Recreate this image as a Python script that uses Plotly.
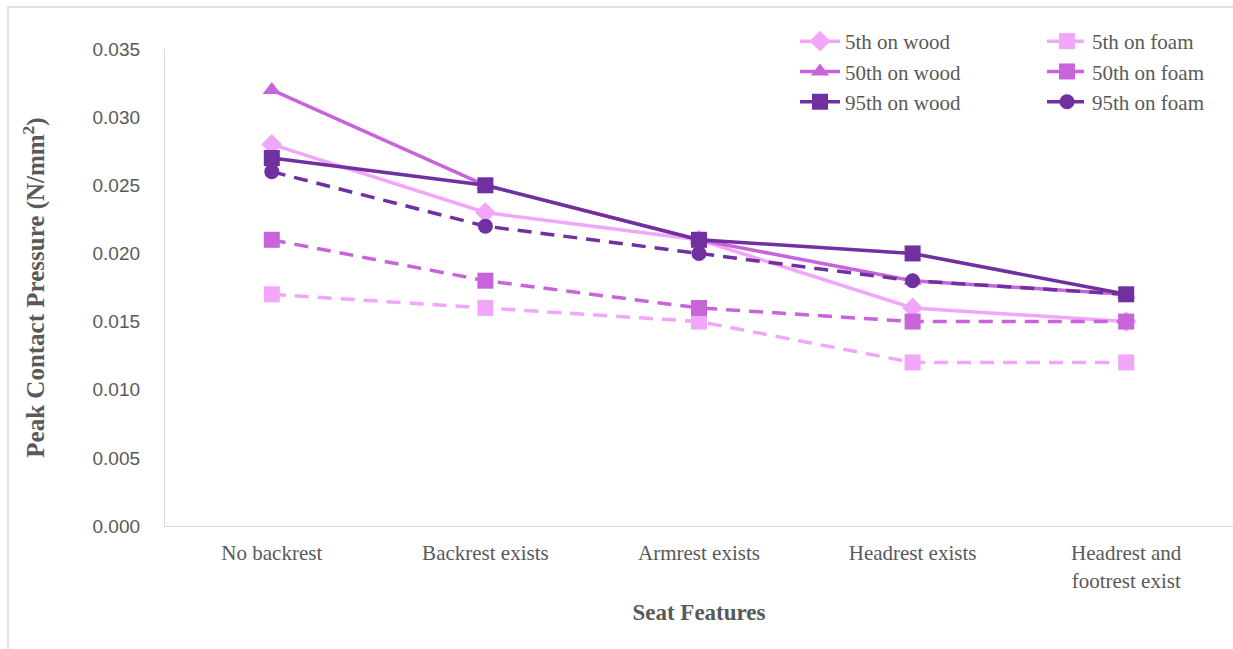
import plotly.graph_objects as go

# Seat configurations on the category axis
categories = ["No backrest", "Backrest exists", "Armrest exists",
              "Headrest exists", "Headrest and<br>footrest exist"]

# Peak contact pressure (N/mm²) per occupant percentile and seat surface
p5_wood = [0.028, 0.023, 0.021, 0.016, 0.015]
p50_wood = [0.032, 0.025, 0.021, 0.018, 0.017]
p95_wood = [0.027, 0.025, 0.021, 0.020, 0.017]
p5_foam = [0.017, 0.016, 0.015, 0.012, 0.012]
p50_foam = [0.021, 0.018, 0.016, 0.015, 0.015]
p95_foam = [0.026, 0.022, 0.020, 0.018, 0.017]

y_ticks = [0.000, 0.005, 0.010, 0.015, 0.020, 0.025, 0.030, 0.035]

LIGHT = "#F2A6FA"
MID = "#C864D9"
DARK = "#7030A0"
DASH = "14px,9px"
LW = 3.5

series = [
    ("5th on wood", p5_wood, LIGHT, "solid", "diamond", 16, "legend"),
    ("50th on wood", p50_wood, MID, "solid", "triangle-up", 16, "legend"),
    ("95th on wood", p95_wood, DARK, "solid", "square", 16, "legend"),
    ("5th on foam", p5_foam, LIGHT, DASH, "square", 16, "legend2"),
    ("50th on foam", p50_foam, MID, DASH, "square", 16, "legend2"),
    ("95th on foam", p95_foam, DARK, DASH, "circle", 15, "legend2"),
]

fig = go.Figure()
for name, vals, color, dash, symbol, size, leg in series:
    fig.add_trace(go.Scatter(
        x=categories, y=vals, name=name, mode="lines+markers",
        line=dict(color=color, width=LW, dash=dash),
        marker=dict(symbol=symbol, size=size, color=color, line=dict(width=0)),
        legend=leg,
    ))

W, H = 1233, 649
ML, MR, MT, MB = 165, 0, 49, 123
pw, ph = W - ML - MR, H - MT - MB


def px_x(x):
    return (x - ML) / pw


def px_y(y):
    return (H - MB - y) / ph


SERIF = "Liberation Serif, Times New Roman, serif"
legend_font = dict(family=SERIF, size=21, color="#595959")

fig.update_layout(
    width=W, height=H,
    margin=dict(l=ML, r=MR, t=MT, b=MB),
    paper_bgcolor="white", plot_bgcolor="white",
    showlegend=True,
    legend=dict(x=px_x(795), y=px_y(21), xanchor="left", yanchor="top",
                font=legend_font, bgcolor="rgba(0,0,0,0)", tracegroupgap=0,
                itemwidth=40),
    legend2=dict(x=px_x(1042), y=px_y(21), xanchor="left", yanchor="top",
                 font=legend_font, bgcolor="rgba(0,0,0,0)", tracegroupgap=0,
                 itemwidth=40),
    xaxis=dict(
        showgrid=False, showline=True, linecolor="#D9D9D9", linewidth=1.3,
        ticks="", range=[-0.5, 4.5], ticklabelstandoff=8,
        tickfont=dict(family=SERIF, size=21, color="#595959"),
        title=dict(text="<b>Seat Features</b>", standoff=12,
                   font=dict(family=SERIF, size=23, color="#595959")),
    ),
    yaxis=dict(
        showgrid=False, zeroline=False, showline=True, linecolor="#D9D9D9", linewidth=1.3,
        ticks="", range=[0, 0.035], tickvals=y_ticks, tickformat=".3f",
        ticklabelstandoff=20,
        tickfont=dict(family="Liberation Sans, Arial, sans-serif", size=19, color="#595959"),
        title=dict(text="<b>Peak Contact Pressure (N/mm<sup>2</sup>)</b>", standoff=40,
                   font=dict(family=SERIF, size=25, color="#595959")),
    ),
    shapes=[dict(type="rect", xref="paper", yref="paper",
                 x0=px_x(8), x1=px_x(1260), y0=px_y(680), y1=px_y(7),
                 line=dict(color="#D9D9D9", width=1.5), fillcolor="rgba(0,0,0,0)",
                 layer="below")],
)

fig.write_html("out.html")
